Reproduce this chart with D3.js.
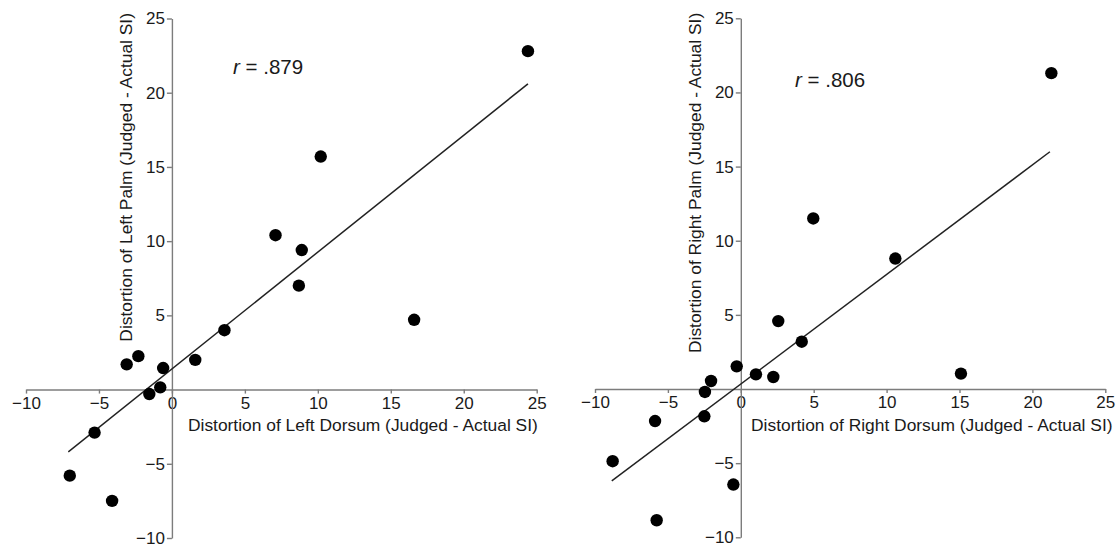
<!DOCTYPE html>
<html>
<head>
<meta charset="utf-8">
<script src="https://cdn.jsdelivr.net/npm/d3@7"></script>
<style>
body { margin: 0; background: #fff; }
svg { display: block; font-family: Arial, "Liberation Sans", sans-serif; }
</style>
</head>
<body>
<svg id="chart"></svg>
<script>
const width = 1116;
const height = 547;

// Distortion values (Judged - Actual SI)
const leftDorsum = [24.4, 10.2, 7.1, 8.9, 8.7, 16.6, 3.6, 1.6, -0.6, -2.3, -3.1, -0.8, -1.55, -5.3, -7.0, -4.1];
const leftPalm   = [22.8, 15.7, 10.4, 9.4, 7.0, 4.7, 4.0, 2.0, 1.45, 2.25, 1.7, 0.15, -0.3, -2.9, -5.8, -7.5];

const rightDorsum = [21.3, 10.6, 4.97, 15.1, 2.57, 4.18, -0.28, 1.04, 2.23, -2.04, -2.46, -2.5, -5.88, -8.79, -0.51, -5.77];
const rightPalm   = [21.3, 8.8, 11.5, 1.04, 4.58, 3.19, 1.53, 0.99, 0.81, 0.54, -0.2, -1.84, -2.16, -4.87, -6.44, -8.85];

// regression line end points [dorsum, palm]
const leftFit  = [[-7.1, -4.2], [24.4, 20.6]];
const rightFit = [[-8.85, -6.2], [21.2, 16.0]];

const correlations = ['.879', '.806'];
const sides = ['Left', 'Right'];

const xTicks = [-10, -5, 0, 5, 10, 15, 20, 25];
const yTicks = [-10, -5, 5, 10, 15, 20, 25];
const domainX = [-10, 25];
const domainY = [-10, 25];

const panels = [
    {dorsum: leftDorsum, palm: leftPalm, fit: leftFit, r: correlations[0], side: sides[0],
     xRange: [26, 536.7], yRange: [538, 18.5], rPos: [233, 74]},
    {dorsum: rightDorsum, palm: rightPalm, fit: rightFit, r: correlations[1], side: sides[1],
     xRange: [595, 1105.3], yRange: [537.3, 18.3], rPos: [795, 87]}
];

const fmt = d3.format('d');

const svg = d3.select('#chart')
    .attr('width', width)
    .attr('height', height);

svg.append('rect')
    .attr('width', width)
    .attr('height', height)
    .attr('fill', '#fff');

panels.forEach(p => {
    const x = d3.scaleLinear().domain(domainX).range(p.xRange);
    const y = d3.scaleLinear().domain(domainY).range(p.yRange);

    const g = svg.append('g');

    // x axis through y = 0
    const xAxis = g.append('g')
        .attr('class', 'axis')
        .attr('transform', `translate(0,${y(0)})`)
        .call(d3.axisBottom(x).tickValues(xTicks).tickFormat(fmt)
            .tickSize(4).tickSizeOuter(0).tickPadding(3));

    // y axis through x = 0
    const yAxis = g.append('g')
        .attr('class', 'axis')
        .attr('transform', `translate(${x(0)},0)`)
        .call(d3.axisLeft(y).tickValues(yTicks).tickFormat(fmt)
            .tickSize(5).tickSizeOuter(0).tickPadding(2));

    [xAxis, yAxis].forEach(a => {
        a.selectAll('path, line')
            .attr('stroke', '#7c7c7c')
            .attr('stroke-width', 1.4);
        a.selectAll('text')
            .attr('fill', '#1a1a1a')
            .style('font-size', '17px')
            .style('font-family', 'Arial, "Liberation Sans", sans-serif');
    });

    // axis titles
    g.append('text')
        .attr('x', x(0) + 191)
        .attr('y', y(0) + 41.5)
        .attr('text-anchor', 'middle')
        .attr('fill', '#1a1a1a')
        .style('font-size', '17.4px')
        .text(`Distortion of ${p.side} Dorsum (Judged - Actual SI)`);

    g.append('text')
        .attr('transform', `translate(${x(0) - 39.5},${y(25) - 5.5}) rotate(-90)`)
        .attr('text-anchor', 'end')
        .attr('fill', '#1a1a1a')
        .style('font-size', '17.4px')
        .text(`Distortion of ${p.side} Palm (Judged - Actual SI)`);

    // correlation label
    const rt = g.append('text')
        .attr('x', p.rPos[0])
        .attr('y', p.rPos[1])
        .attr('fill', '#1a1a1a')
        .style('font-size', '20.5px');
    rt.append('tspan').style('font-style', 'italic').text('r');
    rt.append('tspan').text(` = ${p.r}`);

    // regression line
    g.append('line')
        .attr('x1', x(p.fit[0][0]))
        .attr('y1', y(p.fit[0][1]))
        .attr('x2', x(p.fit[1][0]))
        .attr('y2', y(p.fit[1][1]))
        .attr('stroke', '#222')
        .attr('stroke-width', 1.5);

    // points
    g.selectAll('.dot')
        .data(p.dorsum.map((d, i) => ({dorsum: d, palm: p.palm[i]})))
        .enter()
        .append('circle')
        .attr('class', 'dot')
        .attr('cx', d => x(d.dorsum))
        .attr('cy', d => y(d.palm))
        .attr('r', 6.2)
        .attr('fill', '#000');
});
</script>
</body>
</html>
